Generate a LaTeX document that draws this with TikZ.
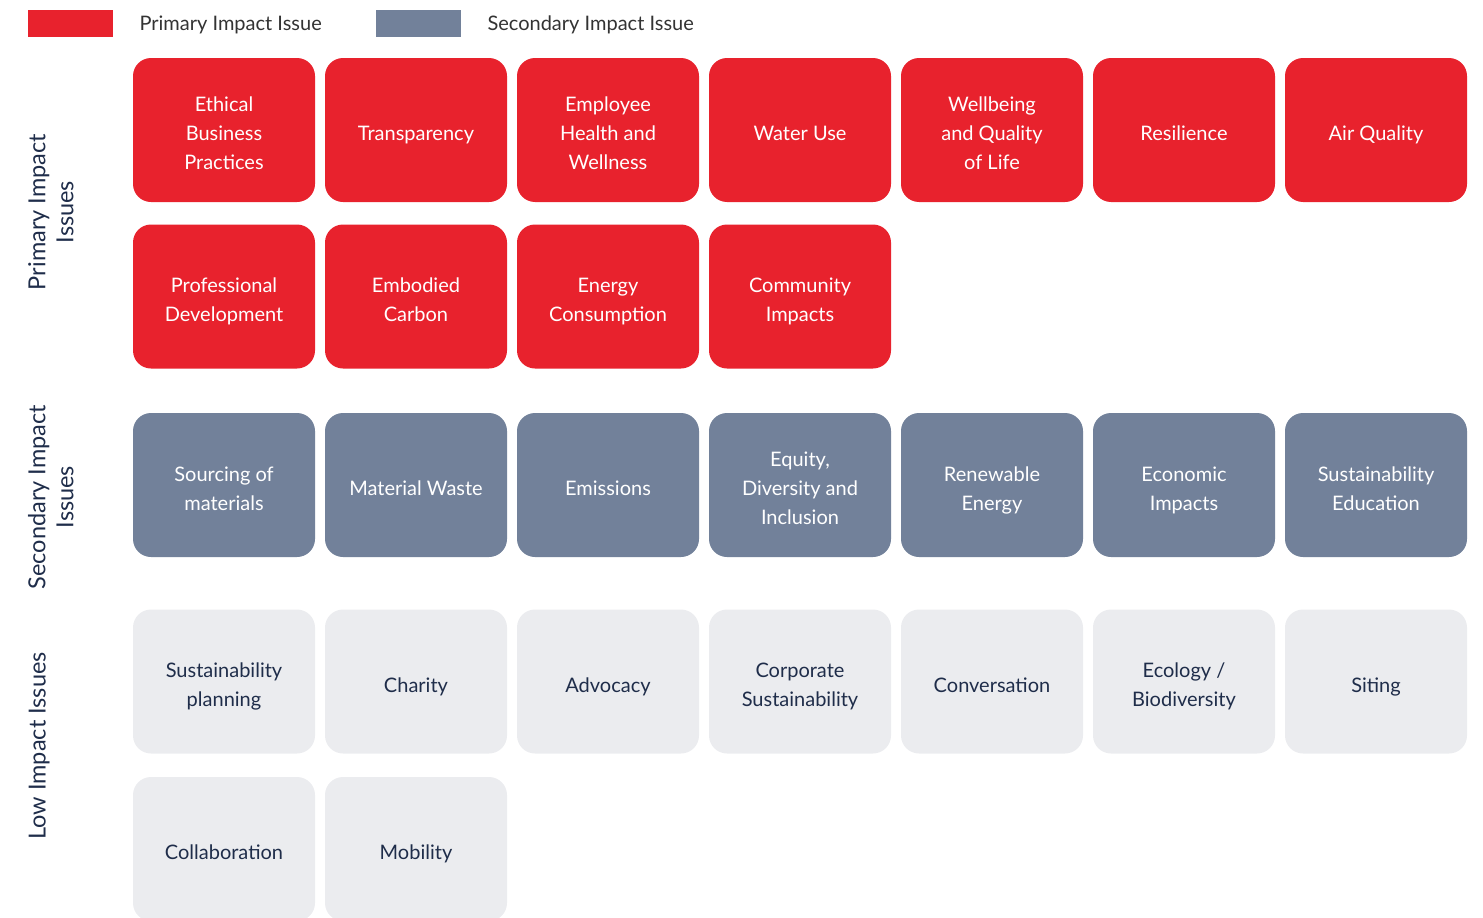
\documentclass[tikz,border=0pt]{standalone}
\usepackage{fontspec}
\setmainfont{Lato}
\definecolor{primred}{HTML}{E8222D}
\definecolor{secgrey}{HTML}{72819A}
\definecolor{lowgrey}{HTML}{EBECEF}
\definecolor{navy}{HTML}{1F2D4A}
\definecolor{legtext}{HTML}{333333}
% line strut that sits the text a little low in its box
\newcommand\bs{\rule[-4pt]{0pt}{29.5pt}}
\begin{document}
\begin{tikzpicture}[x=1pt,y=-1pt,
  issue/.style={rounded corners=18pt,minimum width=182pt,minimum height=144pt,
    inner sep=0pt,align=center,font=\fontsize{20}{29}\selectfont,
    execute at end node=\bs},
  primary/.style={issue,fill=primred,text=white},
  secondary/.style={issue,fill=secgrey,text=white},
  low/.style={issue,fill=lowgrey,text=navy},
  swatch/.style={minimum width=85pt,minimum height=27pt,inner sep=0pt},
  legend/.style={anchor=west,text=legtext,font=\fontsize{20}{24}\selectfont,
    execute at begin node=\strut},
  side/.style={rotate=90,align=center,text=navy,font=\fontsize{23.5}{28}\selectfont,
    execute at begin node=\strut,execute at end node=\strut}]
\useasboundingbox (0,0) rectangle (1483,918);
\clip (0,0) rectangle (1483,918);

% legend
\node[swatch,fill=primred] (legP) at (70.5,23.5) {};
\node[legend] (legPt) at (136,25.5) {Primary Impact Issue};
\node[swatch,fill=secgrey] (legS) at (418.5,23.5) {};
\node[legend] (legSt) at (484,25.5) {Secondary Impact Issue};

% row labels
\node[side] (labP) at (55,212) {Primary Impact\\Issues};
\node[side] (labS) at (55,497) {Secondary Impact\\Issues};
\node[side] (labL) at (40,746) {Low Impact Issues};

% primary issues
\node[primary] (p1) at (224,130) {\bs Ethical\\Business\\Practices};
\node[primary] (p2) at (416,130) {\bs Transparency};
\node[primary] (p3) at (608,130) {\bs Employee\\Health and\\Wellness};
\node[primary] (p4) at (800,130) {\bs Water Use};
\node[primary] (p5) at (992,130) {\bs Wellbeing\\and Quality\\of Life};
\node[primary] (p6) at (1184,130) {\bs Resilience};
\node[primary] (p7) at (1376,130) {\bs Air Quality};
\node[primary] (p8) at (224,296.5) {\bs Professional\\Development};
\node[primary] (p9) at (416,296.5) {\bs Embodied\\Carbon};
\node[primary] (p10) at (608,296.5) {\bs Energy\\Consumption};
\node[primary] (p11) at (800,296.5) {\bs Community\\Impacts};

% secondary issues
\node[secondary] (s1) at (224,485) {\bs Sourcing of\\materials};
\node[secondary] (s2) at (416,485) {\bs Material Waste};
\node[secondary] (s3) at (608,485) {\bs Emissions};
\node[secondary] (s4) at (800,485) {\bs Equity,\\Diversity and\\Inclusion};
\node[secondary] (s5) at (992,485) {\bs Renewable\\Energy};
\node[secondary] (s6) at (1184,485) {\bs Economic\\Impacts};
\node[secondary] (s7) at (1376,485) {\bs Sustainability\\Education};

% low impact issues
\node[low] (l1) at (224,681.5) {\bs Sustainability\\planning};
\node[low] (l2) at (416,681.5) {\bs Charity};
\node[low] (l3) at (608,681.5) {\bs Advocacy};
\node[low] (l4) at (800,681.5) {\bs Corporate\\Sustainability};
\node[low] (l5) at (992,681.5) {\bs Conversation};
\node[low] (l6) at (1184,681.5) {\bs Ecology /\\Biodiversity};
\node[low] (l7) at (1376,681.5) {\bs Siting};
\node[low] (l8) at (224,849) {\bs Collaboration};
\node[low] (l9) at (416,849) {\bs Mobility};
\end{tikzpicture}
\end{document}
